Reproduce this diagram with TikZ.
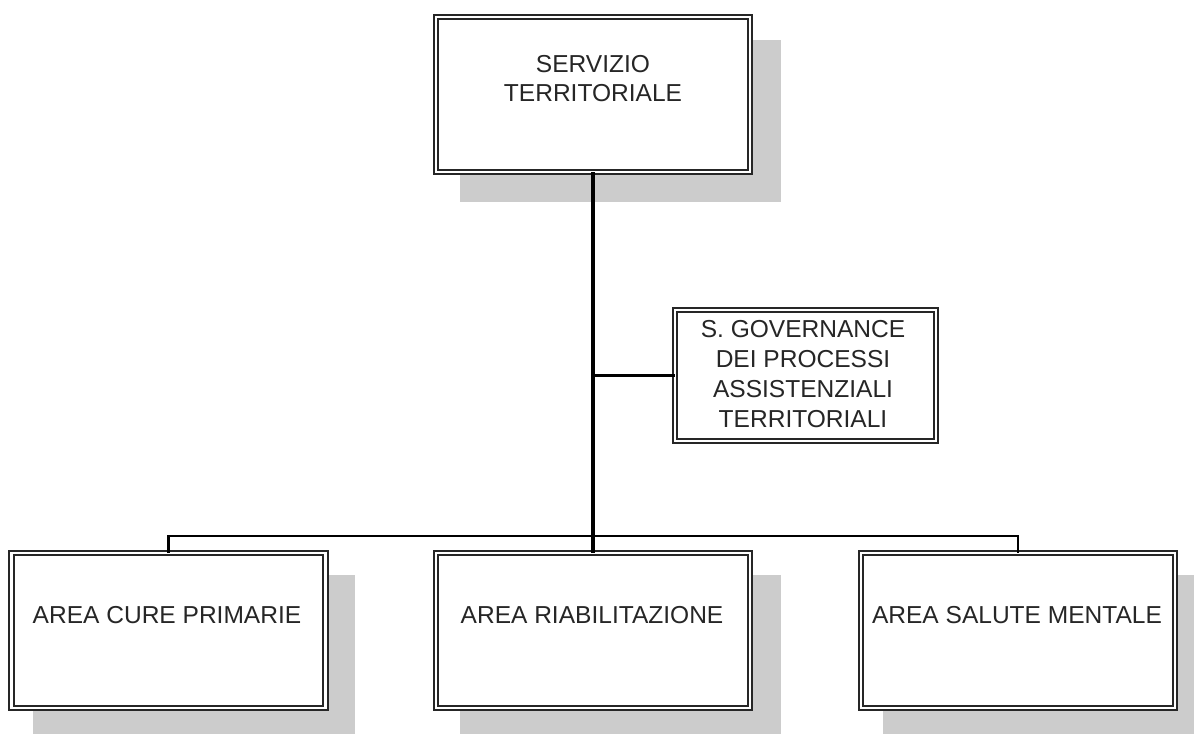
\documentclass[tikz,border=0pt]{standalone}
\usepackage{fontspec}
\setmainfont{Liberation Sans}
\begin{document}
\begin{tikzpicture}[x=0.75pt,y=-0.75pt,
  shadowbox/.style={fill=gray!40,draw=none},
  unitbox/.style={draw=black!85,double=white,line width=1.4pt,double distance=2pt,
    fill=white,inner sep=0pt,outer sep=0pt,minimum width=235.5pt,minimum height=116.25pt},
  staffbox/.style={unitbox,minimum width=195.75pt,minimum height=98.25pt},
  lbl/.style={anchor=base,inner sep=0pt,text=black!85,font=\fontsize{18.4}{22}\selectfont},
  trunk/.style={draw=black,line width=3pt},
  branch/.style={draw=black,line width=1.8pt}]
\clip (0,0) rectangle (1194,733);
\useasboundingbox (0,0) rectangle (1194,733);

% drop shadows
\fill[shadowbox] (460,40) rectangle (781,202);
\fill[shadowbox] (33,575) rectangle (355,737);
\fill[shadowbox] (460,575) rectangle (781,737);
\fill[shadowbox] (883,575) rectangle (1204,737);

% connector junctions
\coordinate (bar) at (593,536);
\coordinate (tap) at (593,375.5);

% boxes
\node[unitbox] (top) at (593,94.5) {};
\node[staffbox] (gov) at (805.5,375.5) {};
\node[unitbox] (left) at (168.5,630.5) {};
\node[unitbox] (mid) at (593,630.5) {};
\node[unitbox] (right) at (1018,630.5) {};

% connectors
\draw[trunk] (top.south) -- (mid.north);
\draw[branch] (tap) -- (gov.west);
\draw[branch] (left.north) |- (bar) -| (right.north);

% labels
\node[lbl] (t1) at (593,72) {SERVIZIO};
\node[lbl] (t2) at (593,101) {TERRITORIALE};
\node[lbl] (g1) at (803,337) {S. GOVERNANCE};
\node[lbl] (g2) at (803,367) {DEI PROCESSI};
\node[lbl] (g3) at (803,397) {ASSISTENZIALI};
\node[lbl] (g4) at (803,427) {TERRITORIALI};
\node[lbl] (l1) at (167,623) {AREA CURE PRIMARIE};
\node[lbl] (m1) at (592,623) {AREA RIABILITAZIONE};
\node[lbl] (r1) at (1017,623) {AREA SALUTE MENTALE};
\end{tikzpicture}
\end{document}
